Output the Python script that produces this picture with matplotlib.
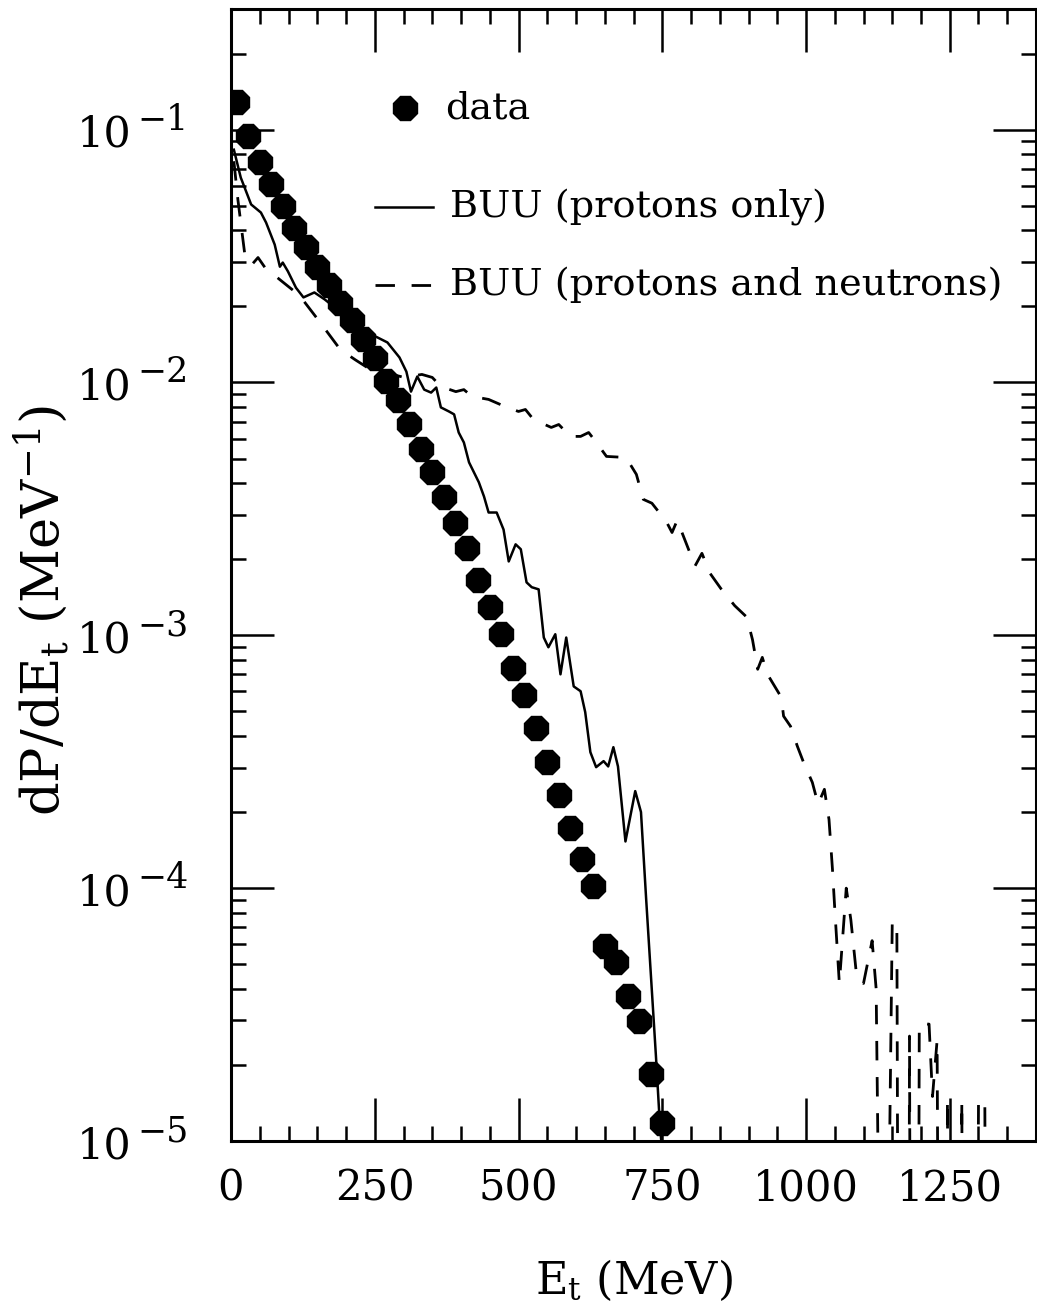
import numpy as np
import matplotlib
matplotlib.use("Agg")
import matplotlib.pyplot as plt
from matplotlib.ticker import MultipleLocator, LogLocator, NullFormatter
from matplotlib.transforms import offset_copy

plt.rcParams['font.family'] = ['DejaVu Serif']
plt.rcParams['mathtext.fontset'] = 'dejavuserif'

# ---------------- data ----------------
data_E = [10, 30, 50, 70, 90, 110, 130, 150, 170, 190, 210, 230, 250, 270, 290,
          310, 330, 350, 370, 390, 410, 430, 450, 470, 490, 510, 530, 550, 570,
          590, 610, 630, 650, 670, 690, 710, 730, 750]
data_P = [0.129, 0.0947, 0.0748, 0.0607, 0.0497, 0.0410, 0.0342, 0.0287, 0.0244,
          0.0207, 0.0177, 0.0148, 0.01255, 0.01009, 0.00849, 0.00683, 0.00548,
          0.00441, 0.00354, 0.00277, 0.00221, 0.00166, 0.00130, 0.00101,
          0.000741, 0.000580, 0.000429, 0.000315, 0.000233, 0.000173, 0.000130,
          0.000102, 5.90e-5, 5.10e-5, 3.74e-5, 2.98e-5, 1.84e-5, 1.18e-5]

buu_p_E = [5, 17, 35, 52, 61, 76, 85, 90, 99, 113, 126, 145, 163, 189, 215, 244,
           272, 293, 305, 313, 324, 336, 348, 357, 365, 379, 388, 396, 405, 414,
           431, 440, 448, 462, 474, 483, 495, 504, 514, 523, 535, 544, 552, 564,
           573, 583, 596, 608, 616, 625, 635, 648, 656, 665, 673, 686, 703, 713,
           722, 731, 739, 746, 751]
buu_p_P = [0.0833, 0.0646, 0.0506, 0.0470, 0.0429, 0.0351, 0.0287, 0.0298, 0.0275,
           0.0237, 0.0217, 0.0227, 0.0213, 0.0191, 0.0170, 0.0155, 0.0144, 0.01256,
           0.01104, 0.0092, 0.01056, 0.00937, 0.00912, 0.00955, 0.00797, 0.00768,
           0.00748, 0.00634, 0.00579, 0.00483, 0.00403, 0.00354, 0.00306, 0.00306,
           0.00262, 0.00196, 0.00229, 0.00219, 0.00162, 0.00155, 0.00152, 0.00098,
           0.000897, 0.00101, 0.000701, 0.00098, 0.000628, 0.000601, 0.000497,
           0.000345, 0.000301, 0.000318, 0.000303, 0.000361, 0.000303, 0.000153,
           0.000242, 0.000200, 9.06e-5, 4.25e-5, 2.17e-5, 1.15e-5, 8.5e-6]

# protons and neutrons; 1e-7 marks empty bins (below the plotted range)
buu_pn_E = [5, 12, 24, 36, 47, 59, 85, 119, 154, 190, 216, 237, 267, 301, 332, 350,
            365, 391, 405, 419, 448, 480, 500, 512, 526, 557, 570, 590, 608, 622,
            634, 653, 687, 705, 717, 732, 757, 767, 776, 793, 807, 819, 833, 852,
            876, 897, 907, 916, 924, 933, 957, 961, 973, 985, 997, 1011, 1021,
            1032, 1040, 1046, 1050, 1058, 1070, 1078, 1088, 1100, 1115, 1122, 1135,
            1150, 1158, 1162, 1178, 1180, 1183, 1194, 1197, 1214, 1220, 1228, 1233,
            1243, 1246, 1249, 1268, 1271, 1274, 1296, 1300, 1311, 1315, 1340]
buu_pn_P = [0.075, 0.0528, 0.0321, 0.0292, 0.0312, 0.0285, 0.0255, 0.0221, 0.0174,
            0.0135, 0.0123, 0.01146, 0.01096, 0.01047, 0.01076, 0.01047, 0.00964,
            0.0092, 0.00937, 0.00881, 0.00857, 0.00797, 0.00768, 0.00782, 0.00714,
            0.00664, 0.00682, 0.00612, 0.00612, 0.00634, 0.00585, 0.0051, 0.00505,
            0.00433, 0.00345, 0.00333, 0.00282, 0.00255, 0.00285, 0.00227, 0.00188,
            0.00211, 0.00176, 0.00153, 0.00131, 0.00118, 0.00096, 0.000734,
            0.000818, 0.000701, 0.000569, 0.000479, 0.000437, 0.000364, 0.000309,
            0.000262, 0.000215, 0.000246, 0.000187, 0.000119, 8.3e-5, 4.2e-5,
            1.0e-4, 7.5e-5, 4.5e-5, 4.2e-5, 6.2e-5, 4.0e-5, 1e-7, 7.3e-5, 7.3e-5,
            1e-7, 1e-7, 2.6e-5, 1e-7, 1e-7, 2.9e-5, 2.9e-5, 1.5e-5, 2.5e-5, 1e-7,
            1e-7, 1.47e-5, 1e-7, 1e-7, 1.44e-5, 1e-7, 1e-7, 1.44e-5, 1.44e-5, 1e-7,
            1e-7]

x_ticks = [0, 250, 500, 750, 1000, 1250]
y_ticks = [1e-5, 1e-4, 1e-3, 1e-2, 1e-1]
y_exponents = ['\u22125', '\u22124', '\u22123', '\u22122', '\u22121']
legend_labels = ['data', 'BUU (protons only)', 'BUU (protons and neutrons)']

# ---------------- figure ----------------
W, H = 1037, 1304
fig = plt.figure(figsize=(W / 100, H / 100), dpi=100)
L, R, T, B = 231, 1036, 9, 1141
ax = fig.add_axes([L / W, (H - B) / H, (R - L) / W, (B - T) / H])

ax.set_yscale('log')
ax.set_xlim(0, 1400)
ax.set_ylim(1e-5, 0.30)

ax.plot(buu_pn_E, buu_pn_P, color='black', lw=2.0, dashes=(7, 6), solid_capstyle='butt')
ax.plot(buu_p_E, buu_p_P, color='black', lw=1.8)
ax.plot(data_E, data_P, ls='none', marker='8', ms=18, color='black', mec='black')

# ticks
ax.set_xticks(x_ticks)
ax.set_xticklabels([str(v) for v in x_ticks])
ax.xaxis.set_minor_locator(MultipleLocator(50))
ax.set_yticks(y_ticks)
ax.set_yticklabels([''] * len(y_ticks))
ax.yaxis.set_minor_locator(LogLocator(base=10, subs=np.arange(2, 10)))
ax.yaxis.set_minor_formatter(NullFormatter())
ax.tick_params(which='both', direction='in', top=True, right=True, width=1.8, color='black')
ax.tick_params(which='major', length=31, labelsize=30)
ax.tick_params(which='minor', length=11)
ax.tick_params(axis='x', which='major', pad=19)
for s in ax.spines.values():
    s.set_linewidth(2.2)

# y tick labels: "10" with a large raised exponent
ytr = ax.get_yaxis_transform()
base_tr = offset_copy(ytr, fig=fig, x=-99, y=-17, units='dots')
exp_tr = offset_copy(ytr, fig=fig, x=-94, y=0, units='dots')
for yv, ex in zip(y_ticks, y_exponents):
    ax.text(0, yv, '10', transform=base_tr, fontsize=31, ha='right', va='baseline')
    ax.text(0, yv, ex, transform=exp_tr, fontsize=25, ha='left', va='baseline')

ax.set_xlabel(r'$\mathregular{E_t}$ (MeV)', fontsize=32)
ax.xaxis.set_label_coords(0.5, -0.103)
ax.set_ylabel(r'dP/dE$_\mathregular{t}$ (MeV$^\mathregular{-1}$)', fontsize=38)
ax.yaxis.set_label_coords(-0.199, 0.469)

# legend (drawn by hand to match layout)
tr = ax.transAxes
ax.plot([0.216], [0.9125], marker='8', ms=18, color='black', transform=tr, clip_on=False)
ax.text(0.266, 0.9125, legend_labels[0], transform=tr, fontsize=27.5, va='center', ha='left')
ax.plot([0.179, 0.251], [0.825, 0.825], color='black', lw=1.8, transform=tr)
ax.text(0.272, 0.825, legend_labels[1], transform=tr, fontsize=27.5, va='center', ha='left')
ax.plot([0.179, 0.251], [0.756, 0.756], color='black', lw=2.0, dashes=(7, 6), transform=tr)
ax.text(0.272, 0.756, legend_labels[2], transform=tr, fontsize=27.5, va='center', ha='left')

fig.savefig('out.png', dpi=100)
